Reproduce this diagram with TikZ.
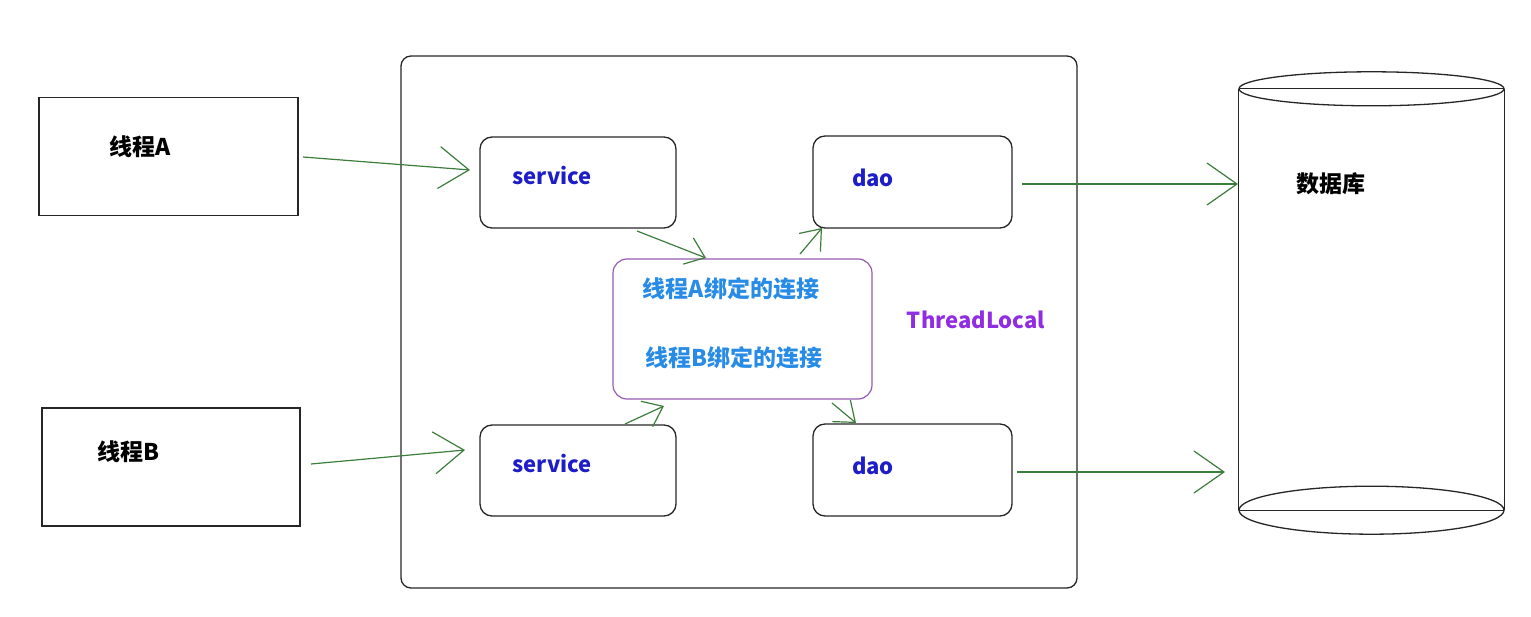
\documentclass[tikz,border=0pt]{standalone}
\usepackage{fontspec}
\setmainfont{Noto Sans CJK SC}
\usetikzlibrary{arrows.meta}
\definecolor{arrowgreen}{RGB}{60,125,60}
\definecolor{svcblue}{RGB}{30,30,200}
\definecolor{connblue}{RGB}{40,140,230}
\definecolor{tlpurple}{RGB}{145,45,225}
\definecolor{tlborder}{RGB}{150,90,180}
\tikzset{
  plainbox/.style={draw=black!85, line width=1.3pt, inner sep=0pt},
  roundbox/.style={plainbox, rounded corners=12pt},
  tlbox/.style={draw=tlborder, line width=1.2pt, rounded corners=14pt, inner sep=0pt},
  blacklabel/.style={font=\bfseries\fontsize{23}{27}\selectfont, text=black, inner sep=0pt},
  svclabel/.style={font=\bfseries\fontsize{22}{26}\selectfont, text=svcblue, inner sep=0pt},
  connlabel/.style={font=\bfseries\fontsize{23}{27}\selectfont, text=connblue, inner sep=0pt},
  tllabel/.style={font=\bfseries\fontsize{22}{26}\selectfont, text=tlpurple, inner sep=0pt},
  bigarrow/.style={draw=arrowgreen, line width=1.2pt, -{Straight Barb[length=30pt,width=42pt,line width=1.2pt]}},
  smallarrow/.style={draw=arrowgreen, line width=1.2pt, -{Straight Barb[length=18pt,width=28pt,line width=1.2pt]}},
  cyl/.style={draw=black!85, line width=1.3pt}
}
\begin{document}
\begin{tikzpicture}[x=1pt,y=-1pt]
\useasboundingbox (0,0) rectangle (1531,617);
% thread boxes
\node[plainbox, minimum width=259pt, minimum height=118pt] (tA) at (168.5,156.5) {};
\node[plainbox, minimum width=258pt, minimum height=118pt] (tB) at (171,467) {};
\node[blacklabel] (tAt) at (140,147) {线程A};
\node[blacklabel] (tBt) at (128,452) {线程B};
% container
\node[plainbox, rounded corners=10pt, minimum width=676pt, minimum height=532pt] (cont) at (739,322) {};
% service / dao
\node[roundbox, minimum width=196pt, minimum height=91pt] (s1) at (578,182.5) {};
\node[roundbox, minimum width=199pt, minimum height=92pt] (d1) at (912.5,182) {};
\node[roundbox, minimum width=196pt, minimum height=91pt] (s2) at (578,470.5) {};
\node[roundbox, minimum width=199pt, minimum height=92pt] (d2) at (912.5,470) {};
\node[svclabel] (s1t) at (552,176) {service};
\node[svclabel] (d1t) at (873,178) {dao};
\node[svclabel] (s2t) at (552,464) {service};
\node[svclabel] (d2t) at (873,466) {dao};
% ThreadLocal box
\node[tlbox, minimum width=259pt, minimum height=140pt] (tl) at (742.5,329) {};
\node[connlabel] (cA) at (731,289) {线程A绑定的连接};
\node[connlabel] (cB) at (733.5,358) {线程B绑定的连接};
\node[tllabel] (tlt) at (976,320) {ThreadLocal};
% database cylinder
\node[inner sep=0pt, minimum width=265pt, minimum height=421pt] (db) at (1371.5,299.5) {};
\draw[cyl] (db.north west) -- (db.south west);
\draw[cyl] (db.north east) -- (db.south east);
\draw[cyl] (db.north) ellipse[x radius=132.5pt, y radius=17pt];
\draw[cyl] (db.north west) -- (db.north east);
\draw[cyl, fill=white] (db.south) ellipse[x radius=132.5pt, y radius=24pt];
\draw[cyl] (db.south west) -- (db.south east);
\node[blacklabel] (dbt) at (1331,184) {数据库};
% arrow end points
\coordinate (aA1) at (303,157);
\coordinate (aA2) at (470,170);
\coordinate (aB1) at (311,464);
\coordinate (aB2) at (465,450);
\coordinate (ad1a) at (1022,184);
\coordinate (ad1b) at (1238,184);
\coordinate (ad2a) at (1017,472);
\coordinate (ad2b) at (1225,472);
\coordinate (as1a) at (637,231);
\coordinate (as1b) at (706,258);
\coordinate (ad1c) at (800,254);
\coordinate (ad1d) at (822,228);
\coordinate (as2a) at (625,424);
\coordinate (as2b) at (664,406);
\coordinate (ad2c) at (832,403);
\coordinate (ad2d) at (856,423);
% arrows
\draw[bigarrow] (aA1) -- (aA2);
\draw[bigarrow] (aB1) -- (aB2);
\draw[bigarrow] (ad1a) -- (ad1b);
\draw[bigarrow] (ad2a) -- (ad2b);
\draw[smallarrow] (as1a) -- (as1b);
\draw[smallarrow] (ad1c) -- (ad1d);
\draw[smallarrow] (as2a) -- (as2b);
\draw[smallarrow] (ad2c) -- (ad2d);
\end{tikzpicture}
\end{document}
